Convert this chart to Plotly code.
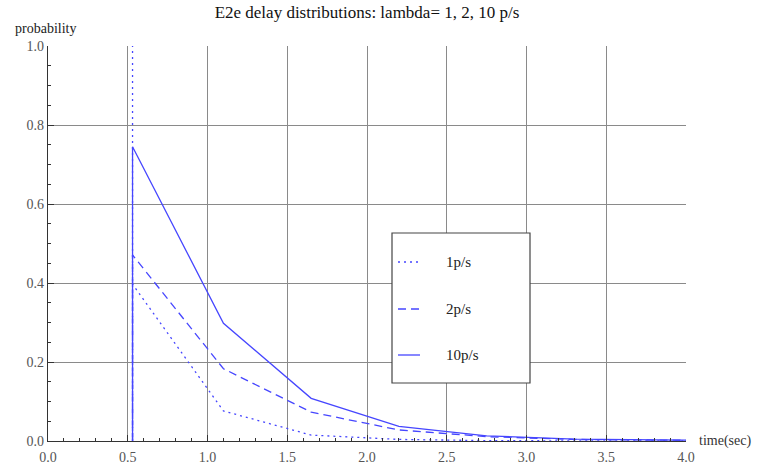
import plotly.graph_objects as go

# ---- data ----
t_1 = [0.53, 0.53, 0.53, 1.10, 1.65, 2.20, 2.75, 3.30, 3.85, 4.40]
p_1 = [1.20, 0.0, 0.397, 0.076, 0.015, 0.004, 0.001, 0.0003, 0.0001, 0.0]
t_2 = [0.53, 0.53, 1.10, 1.65, 2.20, 2.75, 3.30, 3.85, 4.40]
p_2 = [0.0, 0.471, 0.183, 0.073, 0.028, 0.011, 0.004, 0.0015, 0.0005]
t_10 = [0.53, 0.53, 1.10, 1.65, 2.20, 2.75, 3.30, 3.85, 4.40]
p_10 = [0.0, 0.745, 0.298, 0.108, 0.037, 0.013, 0.005, 0.002, 0.001]
series_names = ["1p/s", "2p/s", "10p/s"]

BLUE = "#4646ff"
FONT = "Liberation Serif"
dashes = ["2px,4px", "8px,5px", "solid"]

fig = go.Figure()
for t, p, name, d in zip([t_1, t_2, t_10], [p_1, p_2, p_10], series_names, dashes):
    fig.add_trace(go.Scatter(x=t, y=p, mode="lines", name=name, showlegend=False,
                             line=dict(color=BLUE, width=1.3, dash=d)))

W, H = 771, 465
L, R, T, B = 48, 85, 46, 24
pw, ph = W - L - R, H - T - B

def px(xp):  # page pixel -> paper x
    return (xp - L) / pw

def py(yp):  # page pixel -> paper y
    return (H - B - yp) / ph

# legend box drawn by hand
shapes = [dict(type="rect", xref="paper", yref="paper", x0=px(392), x1=px(530),
               y0=py(383), y1=py(233), line=dict(color="#444", width=1.2),
               fillcolor="white", layer="above")]
annotations = []
for i, (name, d) in enumerate(zip(series_names, dashes)):
    yy = py([262, 309, 355][i])
    shapes.append(dict(type="line", xref="paper", yref="paper", x0=px(398), x1=px(420),
                       y0=yy, y1=yy, line=dict(color=BLUE, width=1.3, dash=d), layer="above"))
    annotations.append(dict(text=name, xref="paper", yref="paper", x=px(444), y=yy,
                            xanchor="left", yanchor="middle", showarrow=False,
                            font=dict(family=FONT, size=15, color="#222")))

annotations.append(dict(text="probability", xref="paper", yref="paper", x=px(13), y=py(29),
                        xanchor="left", yanchor="middle", showarrow=False,
                        font=dict(family=FONT, size=14, color="#222")))
annotations.append(dict(text="time(sec)", xref="paper", yref="paper", x=px(697), y=py(441),
                        xanchor="left", yanchor="middle", showarrow=False,
                        font=dict(family=FONT, size=14, color="#333")))

fig.update_layout(
    width=W, height=H,
    margin=dict(l=L, r=R, t=T, b=B),
    paper_bgcolor="white", plot_bgcolor="white",
    title=dict(text="E2e delay distributions: lambda= 1, 2, 10 p/s", x=0.5, xref="paper",
               xanchor="center", y=1 - 12 / H, yanchor="middle",
               font=dict(family=FONT, size=17, color="#111")),
    font=dict(family=FONT, size=14, color="#555"),
    shapes=shapes, annotations=annotations,
)
fig.update_xaxes(range=[0, 4], dtick=0.5, tick0=0, tickformat=".1f", automargin=False,
                 showline=True, linecolor="#333", linewidth=1.2,
                 ticks="inside", ticklen=6, tickcolor="#333", tickwidth=1.2,
                 showgrid=True, gridcolor="#8a8a8a", gridwidth=1, zeroline=False,
                 ticklabelstandoff=3,
                 minor=dict(dtick=0.1, ticks="inside", ticklen=3, tickcolor="#333", showgrid=False))
fig.update_yaxes(range=[0, 1], dtick=0.2, tick0=0, tickformat=".1f", automargin=False,
                 showline=True, linecolor="#333", linewidth=1.2,
                 ticks="inside", ticklen=6, tickcolor="#333", tickwidth=1.2,
                 showgrid=True, gridcolor="#8a8a8a", gridwidth=1, zeroline=False,
                 minor=dict(dtick=0.05, ticks="inside", ticklen=3, tickcolor="#333", showgrid=False))

# remove the browser's default 8px body margin so the figure fills the window
fig.write_html("out.html", config={"displayModeBar": False},
               post_script="document.body.style.margin='0';")
